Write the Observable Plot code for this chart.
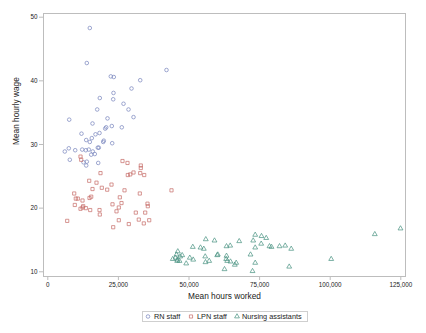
<!DOCTYPE html>
<html><head><meta charset="utf-8">
<script src="https://cdn.jsdelivr.net/npm/d3@7"></script>
<script src="https://cdn.jsdelivr.net/npm/@observablehq/plot@0.6"></script>
<style>
body{margin:0;background:#fff;font-family:"Liberation Sans",Arial,sans-serif;}
#wrap{position:relative;width:426px;height:333px;background:#fff;}
#legend{position:absolute;left:142px;top:311px;width:164px;height:9px;border:1px solid #cfcfcf;font-size:7.3px;color:#222;}
#legend span{position:absolute;top:0;line-height:9px;white-space:nowrap;}
#legend svg{position:absolute;top:0;}
</style>
</head><body>
<div id="wrap"></div>
<script>
const xTicks = [0, 25000, 50000, 75000, 100000, 125000];
const yTicks = [10, 20, 30, 40, 50];
const seriesNames = ["RN staff", "LPN staff", "Nursing assistants"];
const seriesColors = ["#7682bb", "#c66a66", "#46907f"];
const seriesSymbols = ["circle", "square", "triangle"];

const rnHours = [14870,13810,42030,22310,23370,32720,29640,23260,18410,23160,26810,17490,28580,7580,30350,21140,15830,22660,20680,20330,26200,11930,16890,18310,13600,14870,15580,19830,19620,22800,17710,18060,6020,7440,9700,12180,13460,14520,15930,16640,15370,7790,12640,13810,13600,17850];
const rnWage = [48.3,42.8,41.7,40.7,40.6,40.1,38.8,38.1,37.3,37.1,36.4,35.5,35.5,33.9,34.3,34.1,33.3,32.9,32.7,32.5,32.7,31.7,31.6,31.8,30.7,30.4,31.0,30.6,30.4,30.2,29.5,29.5,28.9,29.4,29.1,29.2,29.1,29.2,28.9,28.5,28.4,27.6,27.2,27.3,26.7,27.1];

const lpnHours = [11580,11830,26450,28220,32930,32930,18660,28330,29180,30350,32720,34140,14660,17240,22560,15830,19120,21030,27160,43800,9350,32580,14770,15370,9910,10620,25500,12290,22910,26100,35300,9560,35410,12540,11580,13460,12290,25140,15010,18310,24330,18410,31160,34490,25140,6870,35910,32220,28680,33990,23160];
const lpnWage = [28.1,27.6,27.4,27.1,26.7,26.3,25.5,25.2,25.3,25.6,25.5,25.2,24.3,24.0,23.7,23.0,23.2,22.9,22.8,22.8,22.3,22.3,21.6,21.8,21.5,21.5,21.7,21.2,20.6,20.8,20.7,20.5,20.3,20.3,19.9,20.0,20.1,20.1,19.7,19.7,19.5,19.0,19.3,19.3,18.1,18.0,18.1,18.2,17.5,17.6,17.0];

const naHours = [55950,59030,51340,54070,55240,46030,47590,45570,46880,60200,55740,44260,45220,45930,45820,50280,51490,57150,55840,49010,46640,59980,63280,64590,67780,63280,63170,63530,64690,62570,66710,66220,73440,75670,77340,72730,75560,73440,78500,79210,82050,84060,86190,71780,73440,72490,85480,100350,115790,124890];
const naWage = [15.1,14.9,13.9,13.8,13.6,13.2,12.6,12.7,12.4,12.7,12.4,12.0,12.2,11.9,11.7,12.2,11.9,11.7,11.5,11.3,11.7,12.6,14.0,14.1,14.8,12.5,12.0,11.7,11.6,10.4,11.4,11.1,15.8,15.6,15.3,14.9,14.4,13.8,14.0,13.9,14.0,14.1,13.6,12.7,11.4,10.1,10.8,12.0,15.9,16.8];

const groups = [[rnHours, rnWage], [lpnHours, lpnWage], [naHours, naWage]];
const data = groups.flatMap(([h, w], g) => h.map((v, i) => ({hours: v, wage: w[i], group: seriesNames[g]})));

const axisGray = "#bdbdbd";
const chart = Plot.plot({
  width: 426, height: 305,
  marginLeft: 43, marginRight: 21, marginTop: 13, marginBottom: 29,
  style: {fontFamily: "Liberation Sans, Arial, sans-serif", fontSize: "6.3px", color: "#222", background: "#fff"},
  x: {domain: [-1523, 126660]},
  y: {domain: [9.26, 50.58]},
  color: {domain: seriesNames, range: seriesColors},
  symbol: {domain: seriesNames, range: seriesSymbols},
  marks: [
    Plot.frame({stroke: axisGray}),
    Plot.axisX({ticks: xTicks, tickFormat: d3.format(","), tickSize: 4, tickPadding: 2, stroke: axisGray, fill: "#222", label: null}),
    Plot.axisY({ticks: yTicks, tickSize: 4, tickPadding: 2, stroke: axisGray, fill: "#222", label: null}),
    Plot.dot(data, {x: "hours", y: "wage", stroke: "group", symbol: "group", r: 1.8, strokeWidth: 0.7, fill: "none"}),
    Plot.text(["Mean hours worked"], {frameAnchor: "bottom", dy: 22, fontSize: 8.3, fill: "#222"}),
    Plot.text(["Mean hourly wage"], {frameAnchor: "left", dx: -27, rotate: -90, fontSize: 8.3, fill: "#222"})
  ]
});
const wrap = document.getElementById("wrap");
wrap.appendChild(chart);

// legend below the plot
const legend = document.createElement("div");
legend.id = "legend";
const symPos = [5, 48, 94];
const txtPos = [11, 54, 99];
seriesNames.forEach((name, i) => {
  const s = d3.create("svg").attr("width", 10).attr("height", 9)
    .style("left", (symPos[i] - 5) + "px");
  const symType = [d3.symbolCircle, d3.symbolSquare, d3.symbolTriangle][i];
  s.append("path").attr("transform", "translate(5,4.5)")
    .attr("d", d3.symbol(symType, 10)())
    .attr("fill", "none").attr("stroke", seriesColors[i]).attr("stroke-width", 0.7);
  legend.appendChild(s.node());
  const t = document.createElement("span");
  t.textContent = name;
  t.style.left = txtPos[i] + "px";
  legend.appendChild(t);
});
wrap.appendChild(legend);
</script>
</body></html>
